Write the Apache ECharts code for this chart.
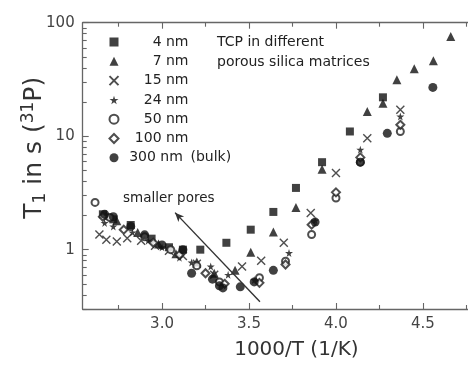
<!DOCTYPE html>
<html><head><meta charset="utf-8">
<script src="https://cdn.jsdelivr.net/npm/echarts@6/dist/echarts.min.js"></script>
<style>html,body{margin:0;padding:0;background:#fff}#c{width:468px;height:365px}</style>
</head><body><div id="c"></div>
<script>
// ---- data: [1000/T (1/K), T1 (s)] ----
const seriesNames = ['4 nm','7 nm','15 nm','24 nm','50 nm','100 nm','300 nm (bulk)'];
const d4nm = [[2.66,2.05],[2.72,1.85],[2.82,1.65],[2.94,1.25],[3.04,1.05],[3.12,1.0],[3.22,1.0],[3.37,1.15],[3.51,1.5],[3.64,2.15],[3.77,3.5],[3.92,5.9],[4.08,11.0],[4.27,22.0]];
const d7nm = [[2.68,2.0],[2.74,1.8],[2.86,1.42],[2.98,1.12],[3.08,0.92],[3.2,0.78],[3.3,0.62],[3.42,0.66],[3.51,0.95],[3.64,1.43],[3.77,2.35],[3.92,5.1],[4.18,16.5],[4.27,19.5],[4.35,31.5],[4.45,39.3],[4.56,46.3],[4.66,75.7]];
const d15nm = [[2.64,1.36],[2.68,1.22],[2.74,1.18],[2.80,1.26],[2.88,1.2],[2.96,1.08],[3.04,0.98],[3.12,0.88],[3.2,0.75],[3.3,0.6],[3.46,0.71],[3.57,0.8],[3.70,1.15],[3.855,2.1],[4.0,4.74],[4.18,9.6],[4.37,17.1]];
const d24nm = [[2.67,1.72],[2.72,1.6],[2.83,1.42],[2.92,1.2],[3.0,1.05],[3.1,0.85],[3.17,0.77],[3.28,0.71],[3.38,0.6],[3.53,0.54],[3.73,0.935],[3.88,1.81],[4.14,7.6],[4.37,14.9]];
const d50nm = [[2.615,2.61],[2.7,1.92],[2.9,1.3],[3.05,1.0],[3.2,0.72],[3.33,0.52],[3.56,0.567],[3.71,0.79],[3.86,1.36],[4.0,2.85],[4.14,5.9],[4.37,11.0]];
const d100nm = [[2.66,1.95],[2.78,1.5],[2.95,1.15],[3.1,0.9],[3.25,0.62],[3.36,0.5],[3.56,0.51],[3.71,0.74],[3.86,1.66],[4.0,3.2],[4.14,6.5],[4.37,12.6]];
const d300nm = [[2.67,2.05],[2.72,1.95],[2.82,1.6],[2.9,1.35],[3.0,1.1],[3.12,1.0],[3.17,0.62],[3.29,0.55],[3.33,0.48],[3.35,0.46],[3.45,0.47],[3.53,0.52],[3.64,0.657],[3.88,1.75],[4.14,5.9],[4.295,10.6],[4.557,26.9]];

// ---- axes / ticks ----
const xMin = 2.544, xMax = 4.759;
const xLabelValues = [3.0, 3.5, 4.0, 4.5];
const xMajorTicks = [3.0, 3.5, 4.0, 4.5];
const xMinorTicks = [2.75, 3.25, 3.75, 4.25, 4.75];
const yMin = 0.3, yMax = 100;
const yLabelValues = [1, 10, 100];
const yMinorTicks = [0.3,0.4,0.5,0.6,0.7,0.8,0.9,2,3,4,5,6,7,8,9,20,30,40,50,60,70,80,90];
const arrowFrom = [3.563, 0.348], arrowTo = [3.075, 2.12];

const L = Math.log10;
const FF = 'DejaVu Sans';
const axisCol = '#666';
const ink = '#111';

const crossPath = 'path://M0 0L10 10M10 0L0 10';
const starPath = 'path://M50 0L61 35L98 35L68 57L79 91L50 70L21 91L32 57L2 35L39 35Z';
const defs = [
  {data:d4nm, symbol:'rect', size:8, style:{color:ink}},
  {data:d7nm, symbol:'triangle', size:9, style:{color:ink}},
  {data:d15nm, symbol:crossPath, size:8, style:{color:'rgba(0,0,0,0)', borderColor:'#222', borderWidth:1.4}},
  {data:d24nm, symbol:starPath, size:8, style:{color:ink}},
  {data:d50nm, symbol:'emptyCircle', size:7, style:{color:'#222', borderWidth:1.3}},
  {data:d100nm, symbol:'emptyDiamond', size:8, style:{color:'#222', borderWidth:1.3}},
  {data:d300nm, symbol:'circle', size:9, style:{color:ink}},
];

const series = defs.map((d, i) => ({
  name: seriesNames[i], type: 'scatter', xAxisIndex: 0, yAxisIndex: 0,
  symbol: d.symbol, symbolSize: d.size, itemStyle: d.style,
  data: d.data.map(p => [p[0], L(p[1])]),
  animation: false, silent: true,
}));
series[0].markLine = {
  silent: true, animation: false,
  symbol: ['none', 'arrow'], symbolSize: [6, 9],
  lineStyle: {color: '#333', width: 1.4, type: 'solid'},
  label: {show: false},
  data: [[{coord: [arrowFrom[0], L(arrowFrom[1])]}, {coord: [arrowTo[0], L(arrowTo[1])]}]]
};

const tickStyle = {color: axisCol, width: 1.1};
const lineStyle = {color: axisCol, width: 1.3};
function xAx(pos, major, showLine, showLabel) {
  return {
    type: 'value', min: xMin, max: xMax, position: pos,
    splitLine: {show: false},
    axisLine: {show: showLine, onZero: false, lineStyle},
    axisTick: {show: true, inside: true, length: major ? 6 : 4, customValues: major ? xMajorTicks : xMinorTicks, lineStyle: tickStyle},
    axisLabel: showLabel ? {show: true, customValues: xLabelValues, formatter: v => Number(v).toFixed(1), margin: 8, fontFamily: FF, fontSize: 15, color: '#444'} : {show: false},
  };
}
const xAxes = [xAx('bottom', true, true, true), xAx('bottom', false, false, false), xAx('top', true, true, false), xAx('top', false, false, false)];
xAxes[0].name = '1000/T (1/K)';
xAxes[0].nameLocation = 'middle';
xAxes[0].nameGap = 31;
xAxes[0].nameMoveOverlap = false;
xAxes[0].nameTextStyle = {fontFamily: FF, fontSize: 20, color: '#333', padding: [0, 0, 0, 42]};

const yAxes = [
  {
    type: 'value', min: L(yMin), max: L(yMax), position: 'left',
    splitLine: {show: false},
    axisLine: {show: true, onZero: false, lineStyle},
    axisTick: {show: true, inside: true, length: 6, customValues: yLabelValues.map(L), lineStyle: tickStyle},
    axisLabel: {show: true, customValues: yLabelValues.map(L), formatter: v => String(Math.round(Math.pow(10, v))), margin: 8, fontFamily: FF, fontSize: 15, color: '#444'},
    name: '{t|T}{sub|1}{t| in s (}{sup|31}{t|P)}',
    nameLocation: 'middle', nameGap: 34, nameRotate: 90, nameMoveOverlap: false,
    nameTextStyle: {
      fontFamily: FF, fontSize: 25, color: '#333', padding: [0, 0, 0, 36],
      rich: {
        t: {fontFamily: FF, fontSize: 25, color: '#333', lineHeight: 29},
        sub: {fontFamily: FF, fontSize: 17, color: '#333', lineHeight: 14, verticalAlign: 'bottom'},
        sup: {fontFamily: FF, fontSize: 17, color: '#333', lineHeight: 14, verticalAlign: 'top'},
      }
    },
  },
  {
    type: 'value', min: L(yMin), max: L(yMax), position: 'left',
    splitLine: {show: false}, axisLine: {show: false},
    axisTick: {show: true, inside: true, length: 4, customValues: yMinorTicks.map(L), lineStyle: tickStyle},
    axisLabel: {show: false},
  }
];

const chart = echarts.init(document.getElementById('c'), null, {renderer: 'canvas'});
chart.setOption({
  animation: false,
  backgroundColor: '#fff',
  grid: {left: 82.7, top: 22.7, right: 0, bottom: 56, containLabel: false},
  xAxis: xAxes,
  yAxis: yAxes,
  legend: {
    orient: 'vertical', left: 108.5, top: 34, padding: 0,
    itemWidth: 9, itemHeight: 9, itemGap: 3.3,
    data: seriesNames,
    formatter: n => n === '300 nm (bulk)' ? '{a|300 nm}{b|(bulk)}' : '{a|' + n + '}',
    textStyle: {
      fontFamily: FF, fontSize: 14, color: '#222', lineHeight: 16,
      rich: {
        a: {fontFamily: FF, fontSize: 14, color: '#222', width: 65, align: 'right', lineHeight: 16},
        b: {fontFamily: FF, fontSize: 14, color: '#222', lineHeight: 16, padding: [0, 0, 0, 2]},
      }
    },
  },
  graphic: [
    {type: 'text', left: 217, top: 33, silent: true,
     style: {text: 'TCP in different\nporous silica matrices', fontFamily: FF, fontSize: 14, lineHeight: 19.3, fill: '#222'}},
    {type: 'text', left: 123, top: 191, silent: true,
     style: {text: 'smaller pores', fontFamily: FF, fontSize: 13.5, fill: '#222'}},
  ],
  series: series,
});
</script>
</body></html>
